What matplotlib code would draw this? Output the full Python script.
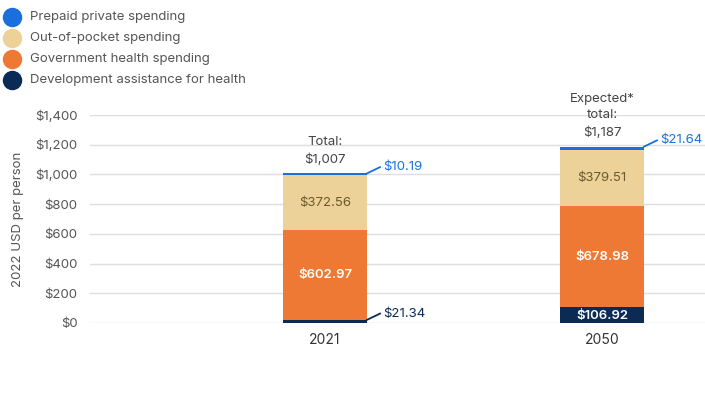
import matplotlib.pyplot as plt
from matplotlib.lines import Line2D

plt.rcParams['font.family'] = ['Inter', 'DejaVu Sans']

# data
years = ['2021', '2050']
dah = [21.34, 106.92]
government = [602.97, 678.98]
out_of_pocket = [372.56, 379.51]
prepaid = [10.19, 21.64]
totals = ['$1,007', '$1,187']
total_titles = ['Total:', 'Expected*\ntotal:']
yticks = [0, 200, 400, 600, 800, 1000, 1200, 1400]
legend_names = ['Prepaid private spending', 'Out-of-pocket spending',
                'Government health spending', 'Development assistance for health']

c_prepaid = '#1b6fdc'
c_oop = '#ecd298'
c_gov = '#ee7935'
c_dah = '#0b2a54'
grey = '#555555'

fig = plt.figure(figsize=(7.05, 3.97), dpi=100)
ax = fig.add_axes([90 / 705, 74 / 397, 615 / 705, 208 / 397])

x = [0, 1]
w = 84 / 277
b1 = dah
b2 = [a + b for a, b in zip(b1, government)]
b3 = [a + b for a, b in zip(b2, out_of_pocket)]
ax.bar(x, dah, width=w, color=c_dah, zorder=3)
ax.bar(x, government, width=w, bottom=b1, color=c_gov, zorder=3)
ax.bar(x, out_of_pocket, width=w, bottom=b2, color=c_oop, zorder=3)
ax.bar(x, prepaid, width=w, bottom=b3, color=c_prepaid, zorder=3)

ax.set_xlim(-235 / 277, 380 / 277)
ax.set_ylim(0, 1400)
ax.set_yticks(yticks)
ax.set_yticklabels(['$' + format(v, ',') for v in yticks])
ax.set_xticks(x)
ax.set_xticklabels(years)
ax.tick_params(axis='y', length=0, pad=9, colors=grey, labelsize=9.5)
ax.tick_params(axis='x', length=0, pad=7, colors='#333333', labelsize=10)
ax.grid(axis='y', color='#dedede', lw=1, zorder=0)
for s in ax.spines.values():
    s.set_visible(False)
ax.set_ylabel('2022 USD per person', color=grey, fontsize=9.5, labelpad=8)

# labels inside the segments
for i in x:
    ax.text(i, b2[i] + out_of_pocket[i] / 2, '$%.2f' % out_of_pocket[i],
            ha='center', va='center', color='#6b5a2c', fontsize=9.5, zorder=4)
    ax.text(i, b1[i] + government[i] / 2, '$%.2f' % government[i],
            ha='center', va='center', color='white', fontsize=9.5,
            fontweight='semibold', zorder=4)
ax.text(1, dah[1] / 2 - 4, '$%.2f' % dah[1], ha='center', va='center',
        color='white', fontsize=9.5, fontweight='semibold', zorder=4)

# leader-line callouts for thin segments
def callout(xi, y, label, color):
    x0 = xi + w / 2
    ax.plot([x0, x0 + 13 / 277], [y, y + 42], color=color, lw=1.3,
            clip_on=False, zorder=4)
    ax.text(x0 + 16 / 277, y + 42, label, color=color, fontsize=9.5,
            va='center', ha='left', clip_on=False)

callout(0, b3[0] + prepaid[0], '$%.2f' % prepaid[0], c_prepaid)
callout(0, dah[0], '$%.2f' % dah[0], c_dah)
callout(1, b3[1] + prepaid[1], '$%.2f' % prepaid[1], c_prepaid)

# totals above bars
for i in x:
    top = b3[i] + prepaid[i]
    ax.text(i, top + 50, total_titles[i] + '\n' + totals[i], ha='center',
            va='bottom', color='#444444', fontsize=9.5, linespacing=1.55,
            clip_on=False)

# legend, drawn row by row
for k, (name, c) in enumerate(zip(legend_names, [c_prepaid, c_oop, c_gov, c_dah])):
    yy = 1 - (17 + 21 * k) / 397
    fig.add_artist(Line2D([12 / 705], [yy], transform=fig.transFigure,
                          marker='o', ms=13, ls='', color=c))
    fig.text(30 / 705, yy, name, va='center', ha='left', color=grey,
             fontsize=9.5)

fig.savefig('out.png', dpi=100)
